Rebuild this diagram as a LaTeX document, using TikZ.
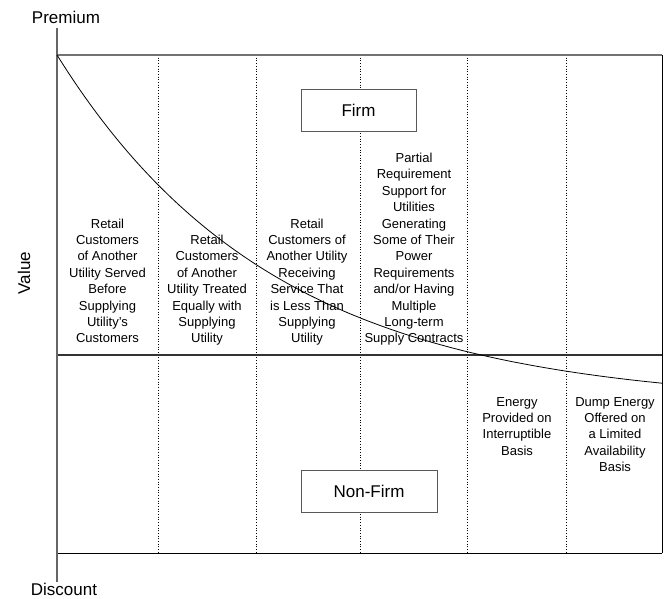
\documentclass[tikz,border=0pt]{standalone}
\usepackage{fontspec}
\setmainfont{Liberation Sans}
\begin{document}
\begin{tikzpicture}[x=1pt,y=-1pt,
  coltext/.style={font=\fontsize{13}{16.4}\selectfont, align=center, inner sep=0pt},
  axislabel/.style={font=\fontsize{17}{20}\selectfont, inner sep=0pt},
  classbox/.style={draw=black!65, line width=0.9pt, fill=white, inner sep=0pt,
                   font=\fontsize{17}{20}\selectfont},
  divider/.style={black, line width=0.7pt, dotted},
  frameline/.style={black, line width=0.9pt}]
\useasboundingbox (0,0) rectangle (668,598);

% grid of columns
\foreach \cx in {158,256,360,467,566}
  \draw[divider] (\cx,55) -- (\cx,553);

% frame
\draw[black!55, line width=1.2pt] (57,55) -- (662,55);
\draw[frameline] (662,55) -- (662,553);
\draw[frameline] (57,553) -- (662,553);
\draw[black!80, line width=1.5pt] (57,355) -- (662,355);
\draw[black!60, line width=1.3pt] (57,28) -- (57,582);

% value curve
\draw[black, line width=0.8pt, domain=57:662, samples=120, smooth]
  plot (\x, {55 + 350*(1 - exp(-(\x-57)/218))});

% axis labels
\node[axislabel, anchor=base] (premium) at (66,23) {Premium};
\node[axislabel, anchor=base] (discount) at (64,595) {Discount};
\node[axislabel, rotate=90] (value) at (24,273) {Value};

% class boxes
\node[classbox, minimum width=115pt, minimum height=42pt] (firm) at (358.5,110) {Firm};
\node[classbox, minimum width=136pt, minimum height=42pt] (nonfirm) at (369,491) {Non-Firm};

% column descriptions
\node[coltext, anchor=south] (c1) at (107.5,348)
  {Retail\\Customers\\of Another\\Utility Served\\Before\\Supplying\\Utility's\\Customers\strut};
\node[coltext, anchor=south] (c2) at (207,348)
  {Retail\\Customers\\of Another\\Utility Treated\\Equally with\\Supplying\\Utility\strut};
\node[coltext, anchor=south] (c3) at (307,348)
  {Retail\\Customers of\\Another Utility\\Receiving\\Service That\\is Less Than\\Supplying\\Utility\strut};
\node[coltext, anchor=south] (c4) at (414,348)
  {Partial\\Requirement\\Support for\\Utilities\\Generating\\Some of Their\\Power\\Requirements\\and/or Having\\Multiple\\Long-term\\Supply Contracts\strut};
\node[coltext, anchor=north] (c5) at (517,397)
  {Energy\\Provided on\\Interruptible\\Basis};
\node[coltext, anchor=north] (c6) at (615,397)
  {Dump Energy\\Offered on\\a Limited\\Availability\\Basis};
\end{tikzpicture}
\end{document}
